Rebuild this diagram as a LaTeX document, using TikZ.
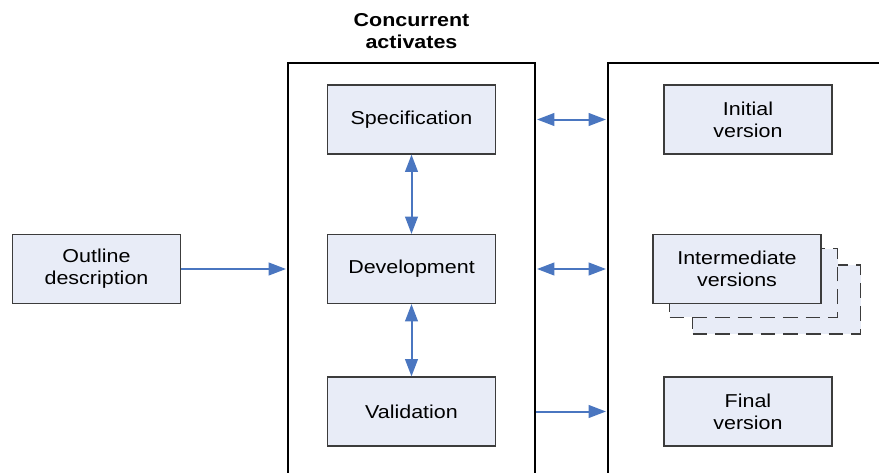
\documentclass[tikz,border=0pt]{standalone}
\usepackage{fontspec}
\setmainfont{Liberation Sans}[FakeStretch=1.15]
\usetikzlibrary{arrows.meta}

\definecolor{stagefill}{HTML}{E8ECF7}
\definecolor{stageline}{HTML}{3C3C3C}
\definecolor{flowblue}{HTML}{4A76C0}

\tikzset{
  stage/.style={draw=stageline, fill=stagefill, line width=1.1pt,
    minimum width=126pt, minimum height=51.5pt, align=center,
    font=\fontsize{14}{16.5}\selectfont},
  ghost/.style={stage, dashed, dash pattern=on 11pt off 6pt},
  frame/.style={draw=black, line width=1.5pt, inner sep=0pt},
  flow/.style={draw=flowblue, line width=1.5pt,
    -{Triangle[length=13pt,width=9.5pt]}},
  dflow/.style={flow, {Triangle[length=13pt,width=9.5pt]}-{Triangle[length=13pt,width=9.5pt]}}
}

\begin{document}
\begin{tikzpicture}[x=0.75pt,y=-0.75pt]
		\useasboundingbox (0,0) rectangle (879,472);
		\clip (0,0) rectangle (879,472);
		% frames
		\node[frame, minimum width=185.25pt, minimum height=342.75pt] (conc) at (411.5,291.5) {};
		\node[frame, minimum width=234pt, minimum height=342.75pt] (vers) at (764,291.5) {};
		\node[align=center, font=\fontsize{14}{16.5}\selectfont\bfseries] (title) at (411.5,31) {Concurrent\\activates};
		% activities
		\node[stage] (spec) at (411.5,119.5) {Specification};
		\node[stage] (dev) at (411.5,269) {Development};
		\node[stage] (val) at (411.5,411.5) {Validation};
		\node[stage] (outline) at (96.5,269) {Outline\\description};
		% versions
		\node[stage] (init) at (748,119.5) {Initial\\version};
		\node[ghost] (ghostb) at (776.5,299.5) {};
		\node[ghost] (ghosta) at (753.5,283) {};
		\node[stage] (inter) at (737,269) {Intermediate\\versions};
		\node[stage] (final) at (748,411.5) {Final\\version};
		% arrows
		\draw[flow, shorten >=0.75pt] (outline) -- (outline -| conc.west);
		\draw[dflow, shorten <=0.75pt, shorten >=0.75pt] (spec -| conc.east) -- (spec -| vers.west);
		\draw[dflow, shorten <=0.75pt, shorten >=0.75pt] (dev -| conc.east) -- (dev -| vers.west);
		\draw[flow, shorten >=0.75pt] (val -| conc.east) -- (val -| vers.west);
		\draw[dflow] (spec) -- (dev);
		\draw[dflow] (dev) -- (val);
	\end{tikzpicture}
\end{document}
